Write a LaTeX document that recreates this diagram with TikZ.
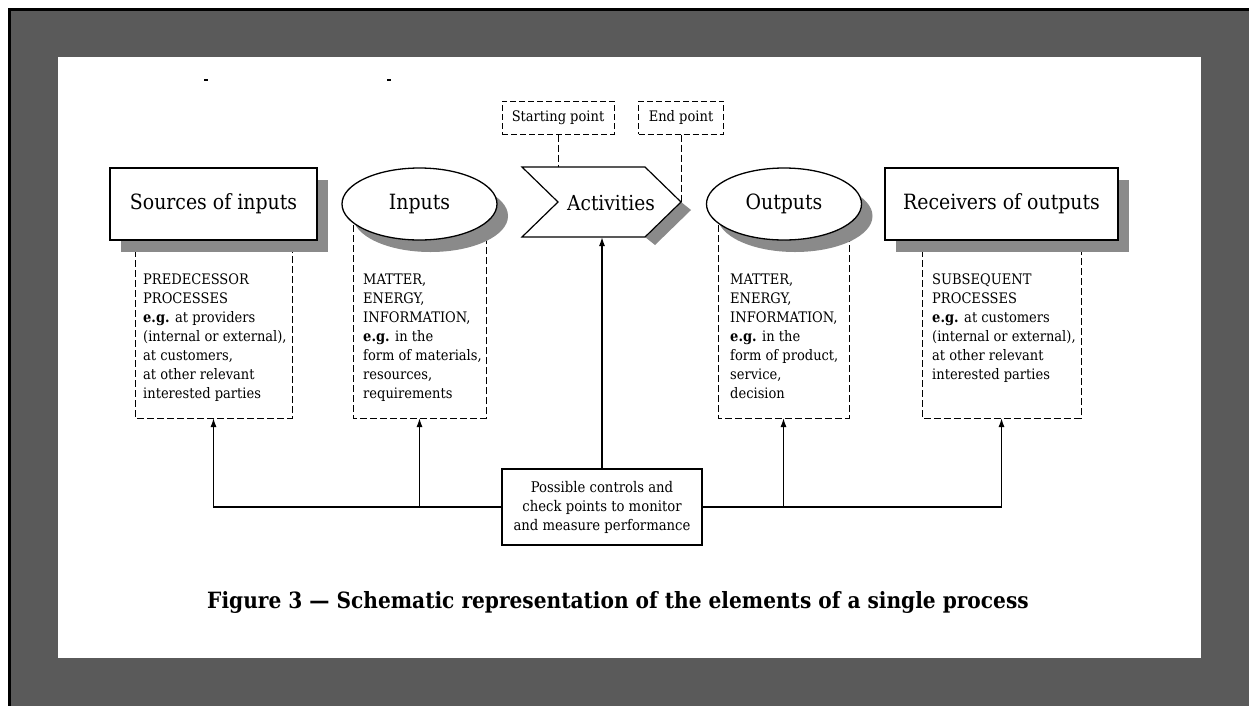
\documentclass[tikz,border=0pt]{standalone}
\usepackage{fontspec}
\setmainfont{DejaVu Serif Condensed}
\usetikzlibrary{arrows.meta,shapes.geometric,shadows,positioning}
\definecolor{framegray}{HTML}{5A5A5A}
\definecolor{shadegray}{HTML}{8A8A8A}

\begin{document}
\begin{tikzpicture}[x=1pt, y=-1pt, every node/.style={inner sep=0pt},
    mainbox/.style={draw, line width=1.3pt, fill=white, minimum width=207pt, minimum height=72pt,
        font=\fontsize{21}{25}\selectfont,
        drop shadow={shadow xshift=11pt, shadow yshift=-12pt, opacity=1, fill=shadegray}},
    mainoval/.style={mainbox, ellipse, minimum width=155pt},
    pointbox/.style={draw, dashed, dash pattern=on 6pt off 3pt, line width=1pt, minimum height=33pt,
        font=\fontsize{14.5}{17}\selectfont},
    notebox/.style={draw, dash pattern=on 7pt off 3pt, line width=1pt},
    notetext/.style={anchor=north west, align=left, font=\fontsize{14.5}{19}\selectfont},
    ctrlbox/.style={draw, line width=1.3pt, fill=white, minimum width=200pt, minimum height=76pt,
        align=center, font=\fontsize{14.7}{19}\selectfont},
    flow/.style={line width=1.4pt, -{Latex[length=9pt, width=6pt]}}]

    % background, frame and white sheet
    \path[use as bounding box] (0,0) rectangle (1249,705);
    \clip (0,0) rectangle (1249,705);
    \fill[white] (0,0) rectangle (1249,705);
    \draw[line width=3pt, fill=framegray] (9.5,9.5) rectangle (1300,760);
    \fill[white] (58,57) rectangle (1201,658);
    \draw[line width=1.2pt] (204,80) -- (208,80); % remains of cut text
    \draw[line width=1.2pt] (387,80) -- (391,80);

    % dashed note frames (tops hidden behind the shapes)
    \foreach \nm/\xl/\xr/\yt in {src/135/292/230, inp/353/486/215, out/718/849/215, rcv/922/1081/230} {
        \draw[notebox] (\xl,\yt) |- (\xr,418) -- (\xr,\yt);
        \coordinate (\nm-foot) at ({(\xl+\xr)/2},418);
    }

    % dashed leaders from start and end point
    \coordinate (notch) at (558,202);
    \coordinate (tip) at (681,202);
    \node[pointbox, minimum width=112pt] (start) at (558,117.5) {Starting point};
    \node[pointbox, minimum width=85pt] (end) at (681,117.5) {End point};
    \draw[notebox] (start.south) -- (notch);
    \draw[notebox] (end.south) -- (tip);

    % main elements
    \node[mainbox] (src) at (213.5,204) {Sources of inputs};
    \node[mainoval] (inp) at (419.5,204) {Inputs};
    \node[mainoval] (out) at (784,204) {Outputs};
    \node[mainbox, minimum width=233pt] (rcv) at (1001.5,204) {Receivers of outputs};

    % activities chevron
    \fill[shadegray] (681,202) -- (691,210) -- (655,245) -- (645,237) -- cycle;
    \draw[line width=1.2pt, fill=white] (522,167) -- (645,167) -- (tip) -- (645,237) -- (522,237) -- (notch) -- cycle;
    \node[font=\fontsize{20.7}{24}\selectfont] (act) at (611,203) {Activities};
    \coordinate (act-foot) at (602,237);

    % note texts
    \node[notetext] (srctext) at (143,274) {PREDECESSOR\\PROCESSES\\\textbf{e.g.} at providers\\(internal or external),\\at customers,\\at other relevant\\interested parties};
    \node[notetext] (inptext) at (363,274) {MATTER,\\ENERGY,\\INFORMATION,\\\textbf{e.g.} in the\\form of materials,\\resources,\\requirements};
    \node[notetext] (outtext) at (730,274) {MATTER,\\ENERGY,\\INFORMATION,\\\textbf{e.g.} in the\\form of product,\\service,\\decision};
    \node[notetext] (rcvtext) at (932,274) {SUBSEQUENT\\PROCESSES\\\textbf{e.g.} at customers\\(internal or external),\\at other relevant\\interested parties};

    % controls and check points
    \node[ctrlbox] (ctrl) at (602,507) {Possible controls and\\check points to monitor\\and measure performance};
    \draw[flow] (ctrl.west) -| (src-foot);
    \draw[flow] (ctrl.west -| inp-foot) -- (inp-foot);
    \draw[flow] (ctrl.east) -| (rcv-foot);
    \draw[flow] (ctrl.east -| out-foot) -- (out-foot);
    \draw[flow] (ctrl.north) -- (act-foot);

    % caption
    \node[font=\bfseries\fontsize{22.4}{26}\selectfont] (caption) at (618,602) {Figure 3 — Schematic representation of the elements of a single process};
\end{tikzpicture}
\end{document}
